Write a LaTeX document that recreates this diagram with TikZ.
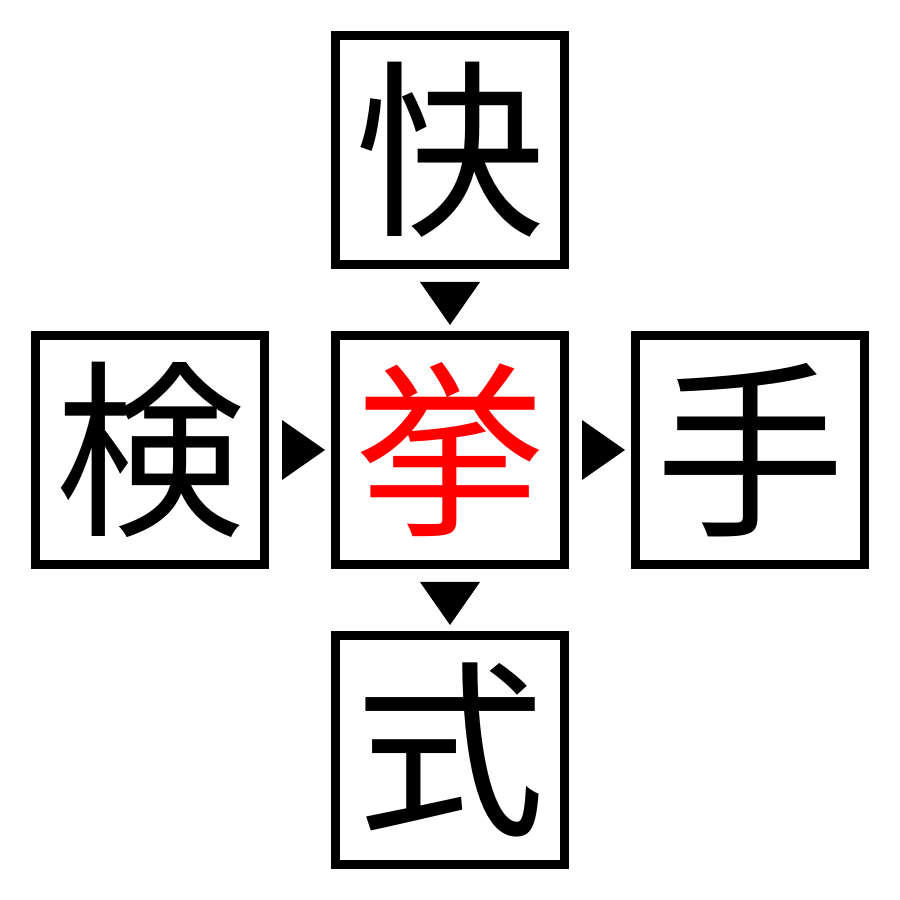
\documentclass[tikz,border=0pt]{standalone}
\usepackage{fontspec}
\newfontfamily\cjk{Noto Sans CJK JP}
\usetikzlibrary{calc}

\tikzset{
  kbox/.style={draw=black, line width=0.09cm, minimum size=2.29cm, inner sep=0pt, font=\cjk\fontsize{54}{54}\selectfont},
  tri/.style={fill=black}
}

\begin{document}
\begin{tikzpicture}
\useasboundingbox (0,0) rectangle (9,9);
\node[kbox] (top) at (4.5,7.5) {快};
\node[kbox] (left) at (1.5,4.5) {検};
\node[kbox, text=red] (mid) at (4.5,4.5) {挙};
\node[kbox] (right) at (7.5,4.5) {手};
\node[kbox] (bot) at (4.5,1.5) {式};
% arrow heads between the boxes
\coordinate (m1) at ($(top.south)!0.5!(mid.north)$);
\coordinate (m2) at ($(mid.south)!0.5!(bot.north)$);
\coordinate (m3) at ($(left.east)!0.5!(mid.west)$);
\coordinate (m4) at ($(mid.east)!0.5!(right.west)$);
\fill[tri] ($(m1)+(-0.3,0.18)$) -- ($(m1)+(0.3,0.18)$) -- ($(m1)+(0,-0.25)$) -- cycle;
\fill[tri] ($(m2)+(-0.3,0.18)$) -- ($(m2)+(0.3,0.18)$) -- ($(m2)+(0,-0.25)$) -- cycle;
\fill[tri] ($(m3)+(-0.18,0.3)$) -- ($(m3)+(-0.18,-0.3)$) -- ($(m3)+(0.25,0)$) -- cycle;
\fill[tri] ($(m4)+(-0.18,0.3)$) -- ($(m4)+(-0.18,-0.3)$) -- ($(m4)+(0.25,0)$) -- cycle;
\end{tikzpicture}
\end{document}
